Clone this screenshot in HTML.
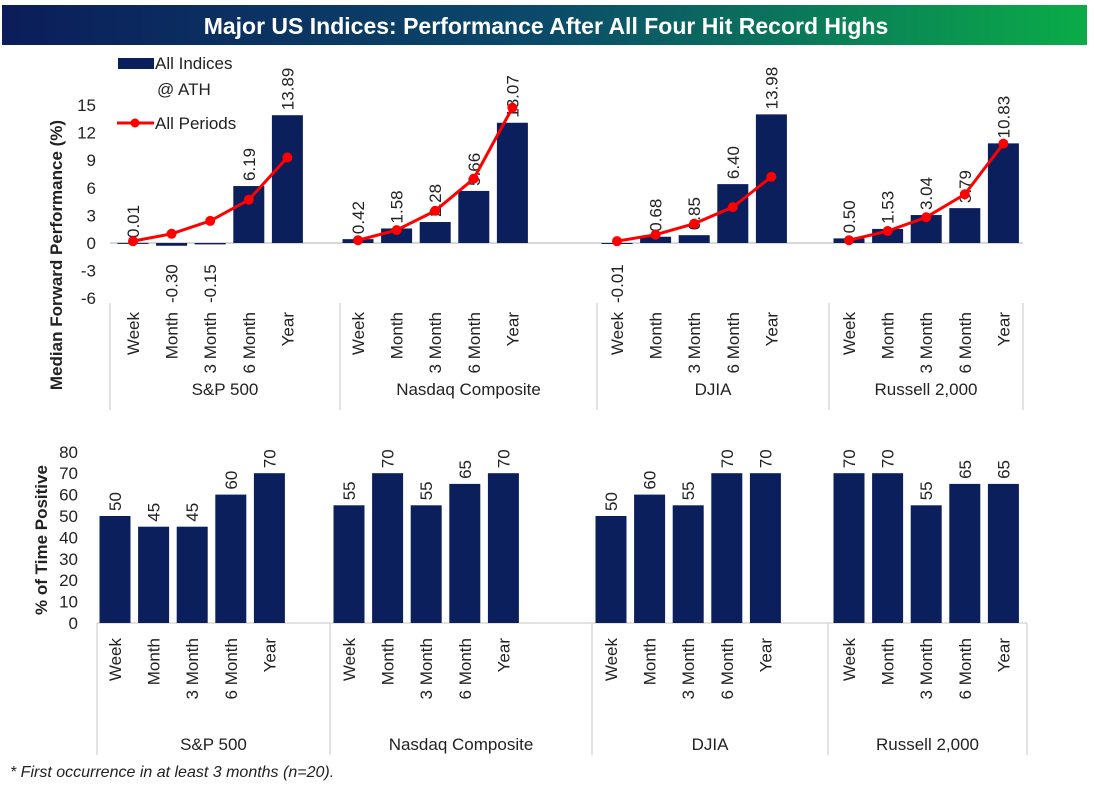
<!DOCTYPE html>
<html><head><meta charset="utf-8"><style>
body{margin:0;background:#fff;width:1094px;height:786px;overflow:hidden;font-family:"Liberation Sans",sans-serif}
svg text{font-family:"Liberation Sans",sans-serif;fill:#222}
</style></head><body>
<svg id="chart" width="1094" height="786" xmlns="http://www.w3.org/2000/svg">
<defs><linearGradient id="tg" x1="0" x2="1" y1="0" y2="0"><stop offset="0" stop-color="#0b1d5a"/><stop offset="0.5" stop-color="#0b4a6a"/><stop offset="1" stop-color="#0aac48"/></linearGradient></defs>
<rect x="2" y="5" width="1085" height="40" fill="url(#tg)"/>
<text x="546" y="34" text-anchor="middle" font-size="23" font-weight="bold" style="fill:#fff">Major US Indices: Performance After All Four Hit Record Highs</text>
<g>
<rect x="118" y="58" width="36" height="11" fill="#0b1f5c"/>
<text x="155" y="69" font-size="17">All Indices</text>
<text x="157" y="95" font-size="17">@ ATH</text>
<line x1="117" y1="123" x2="154" y2="123" stroke="#f00" stroke-width="3"/>
<circle cx="135" cy="123" r="4.5" fill="#f00"/>
<text x="155" y="129" font-size="17">All Periods</text>
</g>
<text transform="translate(62,255) rotate(-90)" text-anchor="middle" font-size="17" font-weight="bold">Median Forward Performance (%)</text>
<text transform="translate(47,540) rotate(-90)" text-anchor="middle" font-size="17" font-weight="bold">% of Time Positive</text>
<text x="10" y="777" font-size="16" font-style="italic">* First occurrence in at least 3 months (n=20).</text>
<g id="topchart"></g><g id="botchart"></g>
</svg>
<script>
const groups = ["S&P 500","Nasdaq Composite","DJIA","Russell 2,000"];
const periods = ["Week","Month","3 Month","6 Month","Year"];
const athValues = [[0.01,-0.30,-0.15,6.19,13.89],[0.42,1.58,2.28,5.66,13.07],[-0.01,0.68,0.85,6.40,13.98],[0.50,1.53,3.04,3.79,10.83]];
const allPeriods = [[0.2,1.0,2.4,4.7,9.3],[0.3,1.4,3.5,7.0,14.7],[0.2,0.9,2.1,3.9,7.2],[0.3,1.3,2.8,5.3,10.8]];
const topTicks = [15,12,9,6,3,0,-3,-6];
const pctPositive = [[50,45,45,60,70],[55,70,55,65,70],[50,60,55,70,70],[70,70,55,65,65]];
const botTicks = [80,70,60,50,40,30,20,10,0];
const NS="http://www.w3.org/2000/svg";
const FS=17;
function mk(p,t,a,txt){const e=document.createElementNS(NS,t);for(const k in a)e.setAttribute(k,a[k]);if(txt!==undefined)e.textContent=txt;p.appendChild(e);return e;}
const C="#0b1f5c";
const topG=document.getElementById('topchart');
const ty=v=>243-v*9.2;
const tWeek=[133,358,617,849], step=38.6, bw=31;
const tx=(g,i)=>tWeek[g]+i*step;
const tSep=[110,340,597,829,1023];
topTicks.forEach(v=>{const t=mk(topG,'text',{x:96,y:ty(v)+6,'text-anchor':'end','font-size':FS},String(v));

});
const zl=mk(topG,'line',{x1:110,x2:1023,y1:ty(0),y2:ty(0),stroke:'#ccc','stroke-width':1.5});


tSep.forEach(x=>{const l=mk(topG,'line',{x1:x,x2:x,y1:303,y2:410,stroke:'#d8d8d8','stroke-width':1.5});

});
groups.forEach((g,gi)=>{
 periods.forEach((p,i)=>{
  const v=athValues[gi][i], x=tx(gi,i), y0=ty(0), y1=ty(v);
  const r=mk(topG,'rect',{x:x-bw/2,y:Math.min(y0,y1),width:bw,height:Math.max(Math.abs(y1-y0),1),fill:C});
  
  
  const ly = v>=0.2 ? y1-5 : (v>=0 ? y0-5 : y0+60);
  const lt=mk(topG,'text',{transform:`translate(${x+6},${ly}) rotate(-90)`,'font-size':FS},v.toFixed(2));
  
  
  const ct=mk(topG,'text',{transform:`translate(${x+6},312) rotate(-90)`,'text-anchor':'end','font-size':FS},p);
  
  
 });
 const pts=allPeriods[gi].map((v,i)=>tx(gi,i)+','+ty(v)).join(' ');
 const pl=mk(topG,'polyline',{points:pts,fill:'none',stroke:'#f00','stroke-width':3});
 
 
 allPeriods[gi].forEach((v,i)=>{const c=mk(topG,'circle',{cx:tx(gi,i),cy:ty(v),r:5,fill:'#f00'});
 
 });
 const gl=mk(topG,'text',{x:(tSep[gi]+tSep[gi+1])/2,y:395,'text-anchor':'middle','font-size':FS},g);
 
 
});
const botG=document.getElementById('botchart');
const by=v=>623-v*2.14;
const bWeek=[115,349,611,849];
const bx=(g,i)=>bWeek[g]+i*step;
const bSep=[97,330,592,828,1027];
botTicks.forEach(v=>{const t=mk(botG,'text',{x:78,y:by(v)+6,'text-anchor':'end','font-size':FS},String(v));

});
const bl=mk(botG,'line',{x1:97,x2:1027,y1:623,y2:623,stroke:'#d8d8d8','stroke-width':1.5});


bSep.forEach(x=>{const l=mk(botG,'line',{x1:x,x2:x,y1:623,y2:755,stroke:'#d8d8d8','stroke-width':1.5});

});
groups.forEach((g,gi)=>{
 periods.forEach((p,i)=>{
  const v=pctPositive[gi][i], x=bx(gi,i);
  const r=mk(botG,'rect',{x:x-bw/2,y:by(v),width:bw,height:623-by(v),fill:C});
  
  
  const lt=mk(botG,'text',{transform:`translate(${x+6},${by(v)-5}) rotate(-90)`,'font-size':FS},String(v));
  
  
  const ct=mk(botG,'text',{transform:`translate(${x+6},638) rotate(-90)`,'text-anchor':'end','font-size':FS},p);
  
  
 });
 const gl=mk(botG,'text',{x:(bSep[gi]+bSep[gi+1])/2,y:750,'text-anchor':'middle','font-size':FS},g);
 
 
});
</script>
</body></html>
